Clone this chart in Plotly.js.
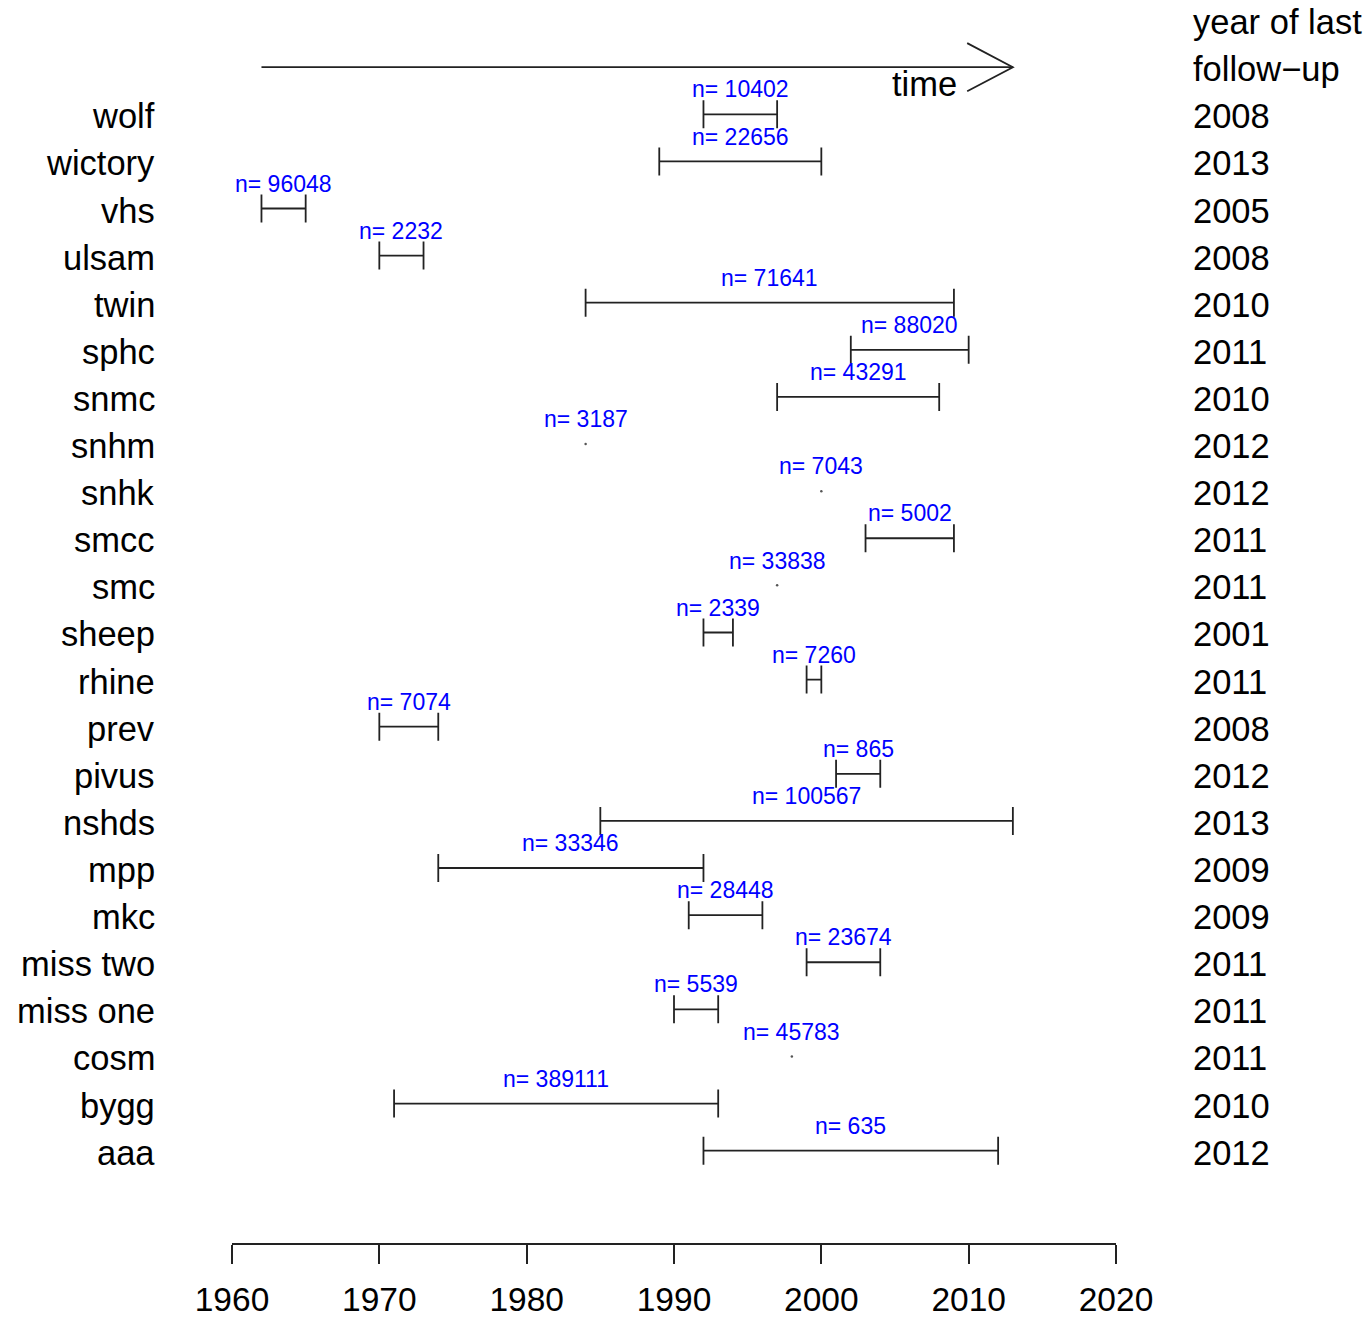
<!DOCTYPE html>
<html>
<head>
<meta charset="utf-8">
<script src="https://cdn.plot.ly/plotly-3.0.1.min.js"></script>
<style>html,body{margin:0;padding:0;background:#fff;}</style>
</head>
<body>
<div id="chart" style="width:1370px;height:1321px;"></div>
<script>
// ---- data ----
const cohorts = ["wolf","wictory","vhs","ulsam","twin","sphc","snmc","snhm","snhk","smcc","smc","sheep","rhine","prev","pivus","nshds","mpp","mkc","miss two","miss one","cosm","bygg","aaa"];
const startYear = [1992,1989,1962,1970,1984,2002,1997,1984,2000,2003,1997,1992,1999,1970,2001,1985,1974,1991,1999,1990,1998,1971,1992];
const endYear   = [1997,2000,1965,1973,2009,2010,2008,1984,2000,2009,1997,1994,2000,1974,2004,2013,1992,1996,2004,1993,1998,1993,2012];
const nSize     = [10402,22656,96048,2232,71641,88020,43291,3187,7043,5002,33838,2339,7260,7074,865,100567,33346,28448,23674,5539,45783,389111,635];
const lastFollowUp = [2008,2013,2005,2008,2010,2011,2010,2012,2012,2011,2011,2001,2011,2008,2012,2013,2009,2009,2011,2011,2011,2010,2012];
const xTicks = [1960,1970,1980,1990,2000,2010,2020];
const headerLines = ["year of last","follow\u2212up"];

// ---- layout helpers ----
const X_MIN = 1960, X_MAX = 2020;
const toPaper = yr => (yr - X_MIN) / (X_MAX - X_MIN);
const nRows = cohorts.length;
const rowPos = cohorts.map((_, i) => nRows - i); // top row highest
const FONT = '"Liberation Sans", Arial, Helvetica, sans-serif';
const BIG = 34.5;
const SMALL = 23;
const NAME_X = toPaper(1954.9);
const YEAR_X = toPaper(2025.1);
const YS = -2;

const spanIdx = [], dotIdx = [];
cohorts.forEach((_, i) => (endYear[i] > startYear[i] ? spanIdx : dotIdx).push(i));

const traces = [
  {
    type: 'scatter', mode: 'markers',
    x: spanIdx.map(i => startYear[i]),
    y: spanIdx.map(i => rowPos[i]),
    marker: {size: 1, color: 'rgba(0,0,0,0)'},
    error_x: {
      type: 'data', symmetric: false,
      array: spanIdx.map(i => endYear[i] - startYear[i]),
      arrayminus: spanIdx.map(() => 0),
      width: 14, thickness: 1.8, color: '#222'
    },
    hoverinfo: 'skip', showlegend: false
  },
  {
    type: 'scatter', mode: 'markers',
    x: dotIdx.map(i => startYear[i]),
    y: dotIdx.map(i => rowPos[i]),
    marker: {size: 2.5, color: '#555'},
    hoverinfo: 'skip', showlegend: false
  }
];

const annotations = [];
// row names
cohorts.forEach((c, i) => annotations.push({
  x: NAME_X, y: rowPos[i], xref: 'paper', yref: 'y', text: c, showarrow: false, yshift: YS,
  xanchor: 'right', yanchor: 'middle', font: {family: FONT, size: BIG, color: '#000'}
}));
// last follow-up years
lastFollowUp.forEach((yv, i) => annotations.push({
  x: YEAR_X, y: rowPos[i], xref: 'paper', yref: 'y', text: String(yv), showarrow: false, yshift: YS,
  xanchor: 'left', yanchor: 'middle', font: {family: FONT, size: BIG, color: '#000'}
}));
// header
headerLines.forEach((t, k) => annotations.push({
  x: YEAR_X, y: nRows + 2 - k, xref: 'paper', yref: 'y', text: t, showarrow: false, yshift: YS,
  xanchor: 'left', yanchor: 'middle', font: {family: FONT, size: BIG, color: '#000'}
}));
// n labels
cohorts.forEach((c, i) => annotations.push({
  x: (startYear[i] + endYear[i]) / 2, y: rowPos[i] + 0.57, xref: 'x', yref: 'y', yshift: YS,
  text: 'n= ' + nSize[i], showarrow: false, xanchor: 'center', yanchor: 'middle',
  font: {family: FONT, size: SMALL, color: '#0000FF'}
}));
// time label
annotations.push({
  x: 2007, y: nRows + 0.69, xref: 'x', yref: 'y', text: 'time', showarrow: false, yshift: YS,
  xanchor: 'center', yanchor: 'middle', font: {family: FONT, size: BIG, color: '#000'}
});

const arrowY = nRows + 1;
const shapes = [
  {type: 'line', xref: 'x', yref: 'y', x0: 1962, x1: 2013, y0: arrowY, y1: arrowY,
   line: {color: '#222', width: 1.8}},
  {type: 'path', xref: 'x', yref: 'y',
   path: `M 2009.9 ${arrowY + 0.51} L 2013 ${arrowY} L 2009.9 ${arrowY - 0.51}`,
   line: {color: '#222', width: 1.8}}
];

const layout = {
  width: 1370, height: 1321,
  margin: {l: 232, r: 254, t: 0, b: 78, pad: 0},
  paper_bgcolor: '#fff', plot_bgcolor: '#fff',
  showlegend: false,
  xaxis: {
    range: [X_MIN, X_MAX], tickvals: xTicks, ticktext: xTicks.map(String),
    ticks: 'outside', ticklen: 19, tickwidth: 1.8, tickcolor: '#222',
    showline: true, linewidth: 1.8, linecolor: '#222',
    showgrid: false, zeroline: false, fixedrange: true,
    ticklabelstandoff: 7,
    tickfont: {family: FONT, size: 33.5, color: '#000'}
  },
  yaxis: {
    range: [-0.96, 25.426], visible: false, showgrid: false, zeroline: false, fixedrange: true
  },
  annotations: annotations,
  shapes: shapes,
  font: {family: FONT}
};

Plotly.newPlot('chart', traces, layout, {displayModeBar: false, staticPlot: true});
</script>
</body>
</html>
